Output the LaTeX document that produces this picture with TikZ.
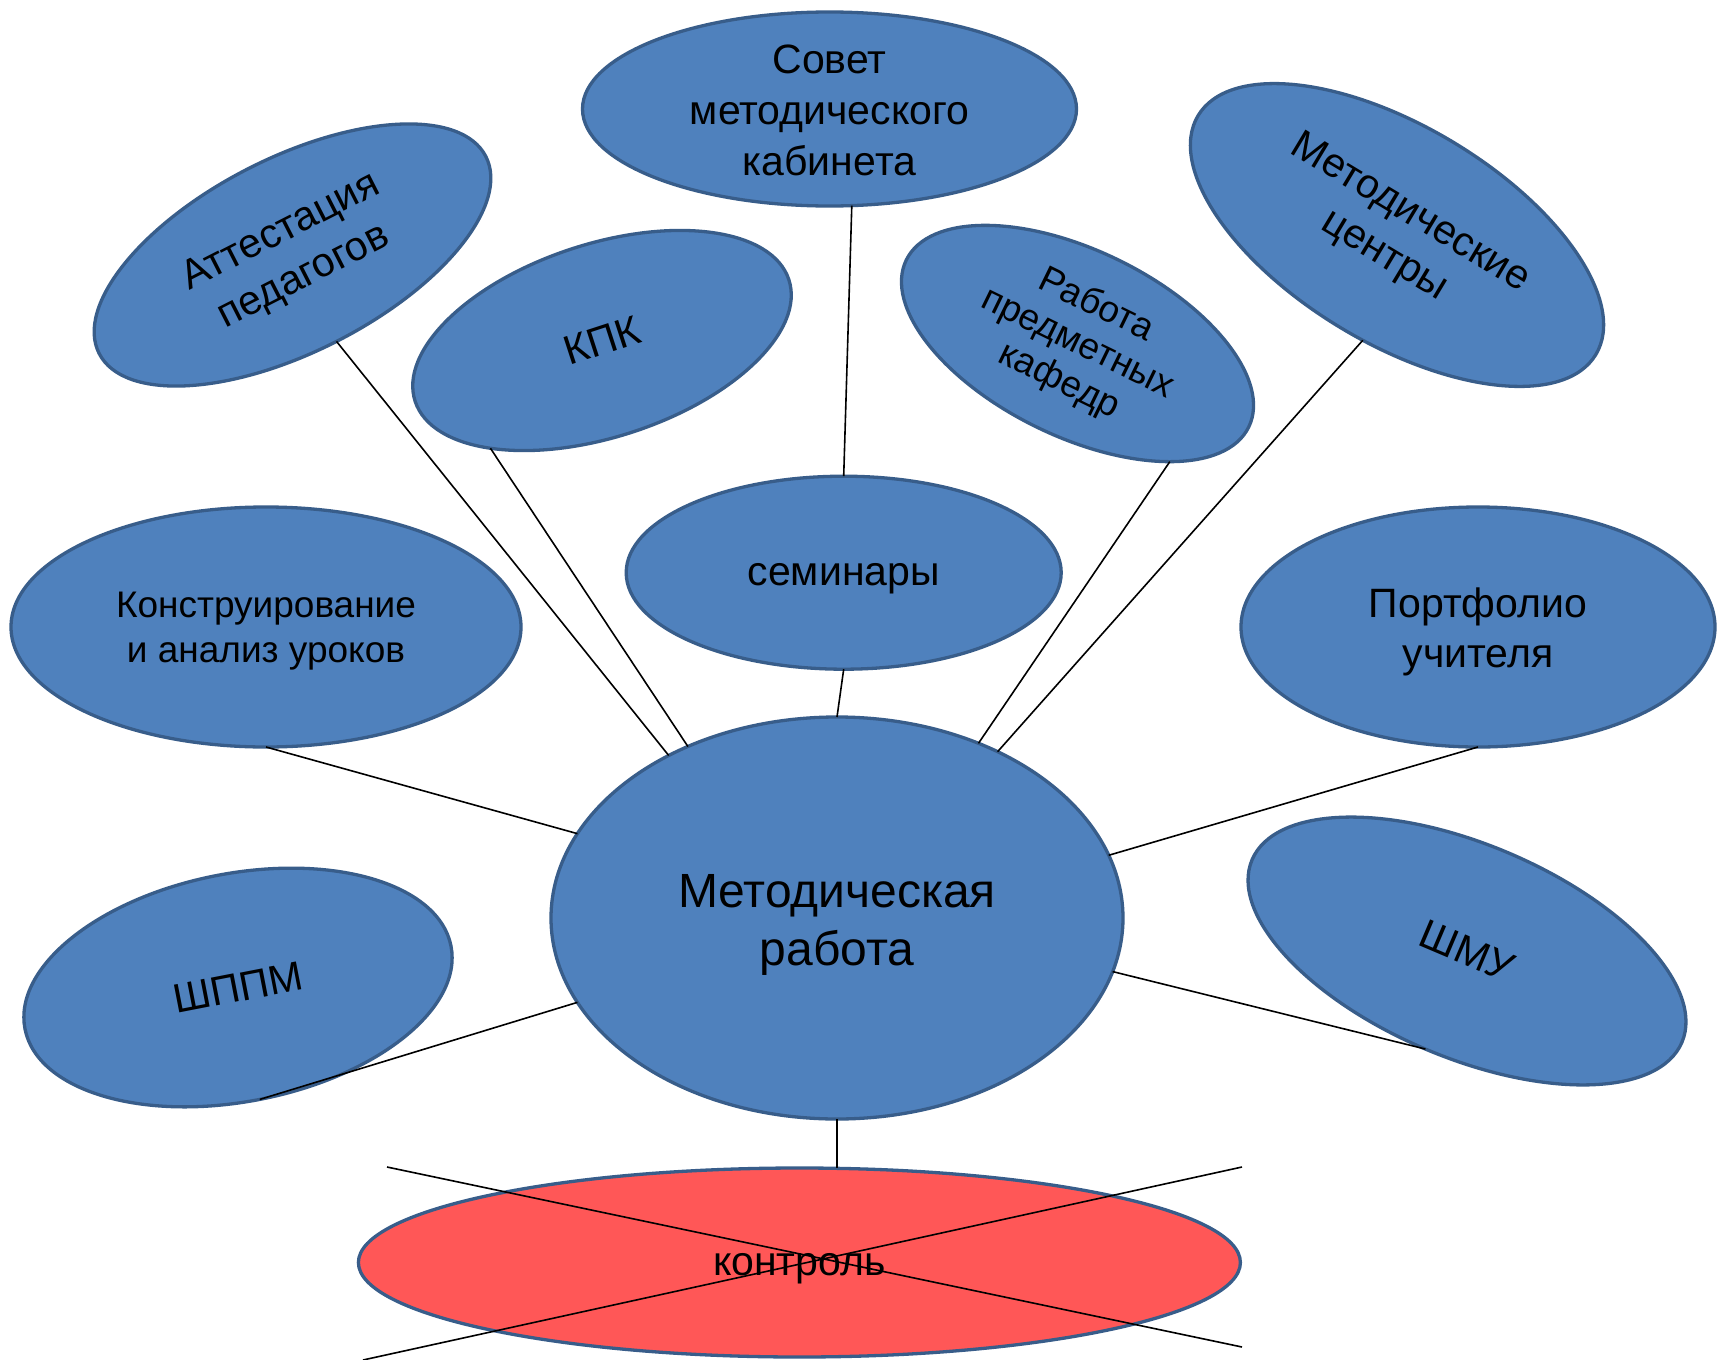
\documentclass[tikz,border=0pt]{standalone}
\usepackage{fontspec}
\setmainfont{Liberation Sans}
\usetikzlibrary{shapes.geometric,calc}
\definecolor{blobfill}{HTML}{4F81BD}
\definecolor{blobline}{HTML}{385D8A}
\definecolor{ctrlfill}{HTML}{FF5757}
\begin{document}
\begin{tikzpicture}[x=1pt,y=-1pt,
  blob/.style={ellipse, draw=blobline, fill=blobfill, line width=3.3pt,
    inner sep=0pt, outer sep=0pt, align=center, text=black,
    font=\fontsize{41}{50}\selectfont},
  label41/.style={inner sep=0pt, align=center, text=black, font=\fontsize{41}{50}\selectfont},
  smalltext/.style={font=\fontsize{37}{45}\selectfont},
  midtext/.style={font=\fontsize{37}{42}\selectfont},
  bigtext/.style={font=\fontsize{48}{58}\selectfont},
  conn/.style={draw=black, line width=1.6pt}]
\useasboundingbox (0,0) rectangle (1717,1360);
\fill[white] (0,0) rectangle (1717,1360);

% ellipses
\node[blob, minimum width=572, minimum height=402] (main) at (837,918) {};
\node[blob, minimum width=494, minimum height=194] (sov) at (829.5,109) {};
\node[blob, minimum width=434, minimum height=194, rotate=27] (att) at (292.5,255) {Аттестация\\педагогов};
\node[blob, minimum width=393, minimum height=193, rotate=18] (kpk) at (602,340.5) {КПК};
\node[blob, minimum width=381, minimum height=186, rotate=-26, midtext] (rab) at (1077.5,343.5) {Работа\\предметных\\кафедр};
\node[blob, minimum width=464, minimum height=217, rotate=-31] (mc) at (1397,235) {Методические\\центры};
\node[blob, minimum width=435, minimum height=193] (sem) at (843.7,572.7) {};
\node[blob, minimum width=510, minimum height=240] (kon) at (266,627) {};
\node[blob, minimum width=474, minimum height=240] (port) at (1478,627) {};
\node[blob, minimum width=434, minimum height=228, rotate=11] (shppm) at (238,987.5) {ШППМ};
\node[blob, minimum width=467, minimum height=213, rotate=-23] (shmu) at (1467,951) {ШМУ};
\node[blob, fill=ctrlfill, minimum width=882, minimum height=189] (ctrl) at (799.4,1262.5) {};

% texts of the upright ellipses
\node[label41, bigtext] (tmain) at ($(main)+(0,6.5)$) {Методическая\\работа};
\node[label41, font=\fontsize{41}{51}\selectfont] (tsov) at ($(sov)+(0,1.5)$) {Совет\\методического\\кабинета};
\node[label41] (tsem) at ($(sem)+(0,6.5)$) {семинары};
\node[label41, smalltext] (tkon) at ($(kon)+(0,4.5)$) {Конструирование\\и анализ уроков};
\node[label41] (tport) at ($(port)+(0,5)$) {Портфолио\\учителя};
\node[label41] (tctrl) at ($(ctrl)+(0,6.5)$) {контроль};

% connectors
\draw[conn] (att.south) -- (main.136.6);
\draw[conn] (kpk.-154) -- (main.131.3);
\draw[conn] (sov.-77) -- (sem.north);
\draw[conn] (sem.south) -- (main.north);
\draw[conn] (rab.-26.5) -- (main.51.5);
\draw[conn] (mc.-77) -- (main.46);
\draw[conn] (kon.south) -- (main.162.2);
\draw[conn] (port.south) -- (main.13.8);
\draw[conn] (shppm.south) -- (main.-162.7);
\draw[conn] (shmu.south) -- (main.-11.4);
\draw[conn] (main.south) -- (main.south |- ctrl.north);

% cross over "контроль"
\coordinate (xa1) at (387,1167);
\coordinate (xa2) at (1242,1347);
\coordinate (xb1) at (1242,1167);
\coordinate (xb2) at (363,1360);
\draw[conn] (xa1) -- (xa2);
\draw[conn] (xb1) -- (xb2);
\end{tikzpicture}
\end{document}
